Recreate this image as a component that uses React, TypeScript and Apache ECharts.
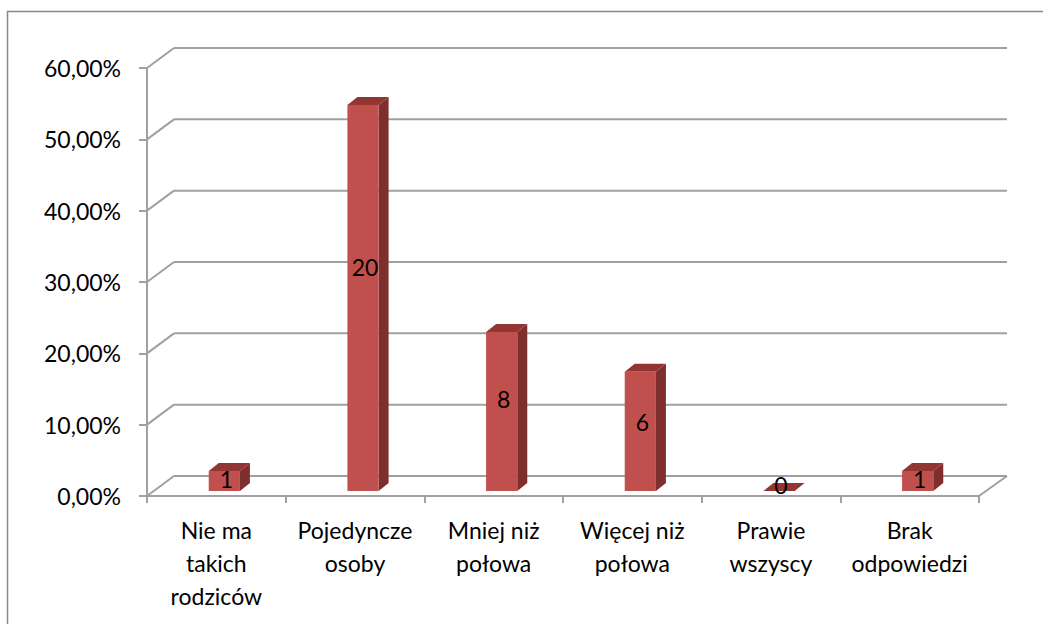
import React, { useEffect, useRef } from "react";
import * as echarts from "echarts";

const categories = [
  "Nie ma\ntakich\nrodziców",
  "Pojedyncze\nosoby",
  "Mniej niż\npołowa",
  "Więcej niż\npołowa",
  "Prawie\nwszyscy",
  "Brak\nodpowiedzi",
];
const shares = [2.8, 54.1, 22.3, 16.7, 0, 2.8];
const counts = [1, 20, 8, 6, 0, 1];
const yTicks = [0, 10, 20, 30, 40, 50, 60];

const FONT = "Lato, 'Open Sans', sans-serif";
const GRID_COLOR = "#a0a0a0";
const WALL_DX = 27;
const WALL_DY = -20;
const BAR_DX = 8;
const BAR_DY = -5;
const SIDE_DX = 10;
const SIDE_DY = -8;

export default function App() {
  const ref = useRef<HTMLDivElement>(null);
  useEffect(() => {
    if (!ref.current) return;
    const chart = echarts.init(ref.current, undefined, { renderer: "svg" });
    const barData = categories.map((_, i) => [i, shares[i], counts[i]]);
    const gridData = yTicks.map((v) => [0, v]);
    chart.setOption({
      animation: false,
      backgroundColor: "#ffffff",
      graphic: [
        {
          type: "rect",
          shape: { x: 7.5, y: 11.5, width: 1100, height: 700 },
          style: { fill: "none", stroke: "#888888", lineWidth: 1.5 },
          z: 0,
        },
      ],
      grid: { left: 147, right: 64, top: 68, bottom: 128, containLabel: false },
      xAxis: {
        type: "category",
        data: categories,
        axisLine: { show: true, lineStyle: { color: GRID_COLOR, width: 2 } },
        axisTick: { show: true, length: 7, lineStyle: { color: GRID_COLOR, width: 2 } },
        axisLabel: {
          interval: 0,
          margin: 17,
          fontFamily: FONT,
          fontSize: 23,
          lineHeight: 33,
          color: "#000000",
          align: "center",
        },
        splitLine: { show: false },
      },
      yAxis: {
        type: "value",
        min: 0,
        max: 60,
        interval: 10,
        axisLine: { show: true, lineStyle: { color: GRID_COLOR, width: 2 } },
        axisTick: { show: true, length: 8, lineStyle: { color: GRID_COLOR, width: 2 } },
        axisLabel: {
          margin: 26,
          fontFamily: FONT,
          fontSize: 23,
          color: "#000000",
          formatter: (v: number) => v.toFixed(2).replace(".", ",") + "%",
        },
        splitLine: { show: false },
      },
      series: [
        {
          type: "custom",
          z: 1,
          clip: false,
          silent: true,
          data: gridData,
          encode: { x: 0, y: 1 },
          renderItem: (params: any, api: any) => {
            const v = api.value(1);
            const cs = params.coordSys;
            const left = cs.x;
            const right = cs.x + cs.width;
            const y = api.coord([0, v])[1];
            const ls = { stroke: GRID_COLOR, lineWidth: 2, fill: "none" };
            const children: any[] = [
              { type: "line", shape: { x1: left, y1: y, x2: left + WALL_DX, y2: y + WALL_DY }, style: ls },
              { type: "line", shape: { x1: left + WALL_DX, y1: y + WALL_DY, x2: right + WALL_DX + 1, y2: y + WALL_DY }, style: ls },
            ];
            if (v === 0) {
              children.push({
                type: "line",
                shape: { x1: right, y1: y, x2: right + WALL_DX + 1, y2: y + WALL_DY },
                style: ls,
              });
            }
            return { type: "group", children };
          },
        },
        {
          type: "custom",
          z: 2,
          clip: false,
          data: barData,
          encode: { x: 0, y: 1 },
          renderItem: (params: any, api: any) => {
            const i = api.value(0);
            const v = api.value(1);
            const n = api.value(2);
            const base = api.coord([i, 0]);
            const top = api.coord([i, v]);
            const band = api.size([1, 0])[0];
            const w = band * 0.225;
            const cx = base[0] + BAR_DX;
            const xl = cx - w / 2;
            const xr = cx + w / 2;
            const by = base[1] + BAR_DY;
            const ty = top[1] + BAR_DY;
            const h = by - ty;
            return {
              type: "group",
              children: [
                {
                  type: "polygon",
                  shape: {
                    points: [
                      [xr, ty],
                      [xr + SIDE_DX, ty + SIDE_DY],
                      [xr + SIDE_DX, by + SIDE_DY],
                      [xr, by],
                    ],
                  },
                  style: { fill: "#7e2f2d" },
                },
                {
                  type: "polygon",
                  shape: {
                    points: [
                      [xl, ty],
                      [xr, ty],
                      [xr + SIDE_DX, ty + SIDE_DY],
                      [xl + SIDE_DX, ty + SIDE_DY],
                    ],
                  },
                  style: { fill: "#933633" },
                },
                {
                  type: "rect",
                  shape: { x: xl, y: ty, width: w, height: h },
                  style: { fill: "#c0504d" },
                },
                {
                  type: "text",
                  x: cx + 2,
                  y: by - Math.max(0.58 * h, 6),
                  style: {
                    text: String(n),
                    fill: "#000000",
                    fontFamily: FONT,
                    fontSize: 23,
                    align: "center",
                    verticalAlign: "middle",
                  },
                },
              ],
            };
          },
        },
      ],
    });
    return () => chart.dispose();
  }, []);
  return (
    <div
      ref={ref}
      style={{ position: "fixed", left: 0, top: 0, width: 1043, height: 624 }}
    />
  );
}
